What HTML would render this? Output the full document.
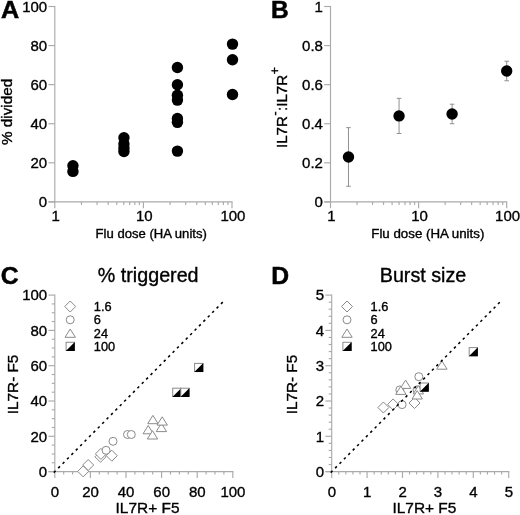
<!DOCTYPE html>
<html><head><meta charset="utf-8"><title>Figure</title>
<style>html,body{margin:0;padding:0;background:#fff}svg{display:block}</style>
</head><body>
<svg width="520" height="515" viewBox="0 0 520 515" font-family="&quot;Liberation Sans&quot;, sans-serif">
<line x1="54.80" y1="202.47" x2="54.80" y2="5.92" stroke="#aaaaaa" stroke-width="1.15" />
<line x1="48.50" y1="201.90" x2="232.57" y2="201.90" stroke="#aaaaaa" stroke-width="1.15" />
<line x1="48.50" y1="201.90" x2="54.80" y2="201.90" stroke="#aaaaaa" stroke-width="1.15" />
<text transform="translate(47.20,207.10) scale(1.0,1)" font-size="15.0" text-anchor="end" font-weight="normal" fill="#000" stroke="#000" stroke-width="0.35">0</text>
<line x1="48.50" y1="162.82" x2="54.80" y2="162.82" stroke="#aaaaaa" stroke-width="1.15" />
<text transform="translate(47.20,168.02) scale(1.0,1)" font-size="15.0" text-anchor="end" font-weight="normal" fill="#000" stroke="#000" stroke-width="0.35">20</text>
<line x1="48.50" y1="123.74" x2="54.80" y2="123.74" stroke="#aaaaaa" stroke-width="1.15" />
<text transform="translate(47.20,128.94) scale(1.0,1)" font-size="15.0" text-anchor="end" font-weight="normal" fill="#000" stroke="#000" stroke-width="0.35">40</text>
<line x1="48.50" y1="84.66" x2="54.80" y2="84.66" stroke="#aaaaaa" stroke-width="1.15" />
<text transform="translate(47.20,89.86) scale(1.0,1)" font-size="15.0" text-anchor="end" font-weight="normal" fill="#000" stroke="#000" stroke-width="0.35">60</text>
<line x1="48.50" y1="45.58" x2="54.80" y2="45.58" stroke="#aaaaaa" stroke-width="1.15" />
<text transform="translate(47.20,50.78) scale(1.0,1)" font-size="15.0" text-anchor="end" font-weight="normal" fill="#000" stroke="#000" stroke-width="0.35">80</text>
<line x1="48.50" y1="6.50" x2="54.80" y2="6.50" stroke="#aaaaaa" stroke-width="1.15" />
<text transform="translate(47.20,11.70) scale(1.0,1)" font-size="15.0" text-anchor="end" font-weight="normal" fill="#000" stroke="#000" stroke-width="0.35">100</text>
<line x1="54.80" y1="201.90" x2="54.80" y2="208.20" stroke="#aaaaaa" stroke-width="1.15" />
<line x1="81.47" y1="201.90" x2="81.47" y2="204.90" stroke="#aaaaaa" stroke-width="1.15" />
<line x1="97.07" y1="201.90" x2="97.07" y2="204.90" stroke="#aaaaaa" stroke-width="1.15" />
<line x1="108.14" y1="201.90" x2="108.14" y2="204.90" stroke="#aaaaaa" stroke-width="1.15" />
<line x1="116.73" y1="201.90" x2="116.73" y2="204.90" stroke="#aaaaaa" stroke-width="1.15" />
<line x1="123.74" y1="201.90" x2="123.74" y2="204.90" stroke="#aaaaaa" stroke-width="1.15" />
<line x1="129.68" y1="201.90" x2="129.68" y2="204.90" stroke="#aaaaaa" stroke-width="1.15" />
<line x1="134.81" y1="201.90" x2="134.81" y2="204.90" stroke="#aaaaaa" stroke-width="1.15" />
<line x1="139.35" y1="201.90" x2="139.35" y2="204.90" stroke="#aaaaaa" stroke-width="1.15" />
<line x1="143.40" y1="201.90" x2="143.40" y2="208.20" stroke="#aaaaaa" stroke-width="1.15" />
<line x1="170.07" y1="201.90" x2="170.07" y2="204.90" stroke="#aaaaaa" stroke-width="1.15" />
<line x1="185.67" y1="201.90" x2="185.67" y2="204.90" stroke="#aaaaaa" stroke-width="1.15" />
<line x1="196.74" y1="201.90" x2="196.74" y2="204.90" stroke="#aaaaaa" stroke-width="1.15" />
<line x1="205.33" y1="201.90" x2="205.33" y2="204.90" stroke="#aaaaaa" stroke-width="1.15" />
<line x1="212.34" y1="201.90" x2="212.34" y2="204.90" stroke="#aaaaaa" stroke-width="1.15" />
<line x1="218.28" y1="201.90" x2="218.28" y2="204.90" stroke="#aaaaaa" stroke-width="1.15" />
<line x1="223.41" y1="201.90" x2="223.41" y2="204.90" stroke="#aaaaaa" stroke-width="1.15" />
<line x1="227.95" y1="201.90" x2="227.95" y2="204.90" stroke="#aaaaaa" stroke-width="1.15" />
<line x1="232.00" y1="201.90" x2="232.00" y2="208.20" stroke="#aaaaaa" stroke-width="1.15" />
<text transform="translate(55.70,221.20) scale(1.0,1)" font-size="15.0" text-anchor="middle" font-weight="normal" fill="#000" stroke="#000" stroke-width="0.35">1</text>
<text transform="translate(144.30,221.20) scale(1.0,1)" font-size="15.0" text-anchor="middle" font-weight="normal" fill="#000" stroke="#000" stroke-width="0.35">10</text>
<text transform="translate(232.90,221.20) scale(1.0,1)" font-size="15.0" text-anchor="middle" font-weight="normal" fill="#000" stroke="#000" stroke-width="0.35">100</text>
<circle cx="72.94" cy="165.75" r="5.7" fill="#000"/>
<circle cx="72.94" cy="171.42" r="5.7" fill="#000"/>
<circle cx="123.94" cy="137.81" r="5.7" fill="#000"/>
<circle cx="123.94" cy="144.06" r="5.7" fill="#000"/>
<circle cx="123.94" cy="147.97" r="5.7" fill="#000"/>
<circle cx="123.94" cy="151.49" r="5.7" fill="#000"/>
<circle cx="177.43" cy="67.56" r="5.7" fill="#000"/>
<circle cx="177.43" cy="84.66" r="5.7" fill="#000"/>
<circle cx="177.43" cy="95.21" r="5.7" fill="#000"/>
<circle cx="177.43" cy="100.10" r="5.7" fill="#000"/>
<circle cx="177.43" cy="118.46" r="5.7" fill="#000"/>
<circle cx="177.43" cy="122.37" r="5.7" fill="#000"/>
<circle cx="177.43" cy="151.10" r="5.7" fill="#000"/>
<circle cx="232.50" cy="44.11" r="5.7" fill="#000"/>
<circle cx="232.50" cy="59.75" r="5.7" fill="#000"/>
<circle cx="232.50" cy="94.43" r="5.7" fill="#000"/>
<text transform="translate(1.10,18.30) scale(1.05,1)" font-size="24.0" text-anchor="start" font-weight="bold" fill="#000" stroke="#000" stroke-width="0.5">A</text>
<text transform="translate(151.20,237.50) scale(1.065,1)" font-size="12.3" text-anchor="middle" font-weight="normal" fill="#000" stroke="#000" stroke-width="0.35">Flu dose (HA units)</text>
<text transform="translate(12.00,111.90) rotate(-90) scale(1.065,1)" font-size="14.3" text-anchor="middle" fill="#000" stroke="#000" stroke-width="0.35">% divided</text>
<line x1="330.50" y1="202.47" x2="330.50" y2="5.92" stroke="#aaaaaa" stroke-width="1.15" />
<line x1="324.20" y1="201.90" x2="507.27" y2="201.90" stroke="#aaaaaa" stroke-width="1.15" />
<line x1="324.20" y1="201.90" x2="330.50" y2="201.90" stroke="#aaaaaa" stroke-width="1.15" />
<text transform="translate(322.90,207.10) scale(1.0,1)" font-size="15.0" text-anchor="end" font-weight="normal" fill="#000" stroke="#000" stroke-width="0.35">0</text>
<line x1="324.20" y1="162.82" x2="330.50" y2="162.82" stroke="#aaaaaa" stroke-width="1.15" />
<text transform="translate(322.90,168.02) scale(1.0,1)" font-size="15.0" text-anchor="end" font-weight="normal" fill="#000" stroke="#000" stroke-width="0.35">0.2</text>
<line x1="324.20" y1="123.74" x2="330.50" y2="123.74" stroke="#aaaaaa" stroke-width="1.15" />
<text transform="translate(322.90,128.94) scale(1.0,1)" font-size="15.0" text-anchor="end" font-weight="normal" fill="#000" stroke="#000" stroke-width="0.35">0.4</text>
<line x1="324.20" y1="84.66" x2="330.50" y2="84.66" stroke="#aaaaaa" stroke-width="1.15" />
<text transform="translate(322.90,89.86) scale(1.0,1)" font-size="15.0" text-anchor="end" font-weight="normal" fill="#000" stroke="#000" stroke-width="0.35">0.6</text>
<line x1="324.20" y1="45.58" x2="330.50" y2="45.58" stroke="#aaaaaa" stroke-width="1.15" />
<text transform="translate(322.90,50.78) scale(1.0,1)" font-size="15.0" text-anchor="end" font-weight="normal" fill="#000" stroke="#000" stroke-width="0.35">0.8</text>
<line x1="324.20" y1="6.50" x2="330.50" y2="6.50" stroke="#aaaaaa" stroke-width="1.15" />
<text transform="translate(322.90,11.70) scale(1.0,1)" font-size="15.0" text-anchor="end" font-weight="normal" fill="#000" stroke="#000" stroke-width="0.35">1</text>
<line x1="330.50" y1="201.90" x2="330.50" y2="208.20" stroke="#aaaaaa" stroke-width="1.15" />
<line x1="357.02" y1="201.90" x2="357.02" y2="204.90" stroke="#aaaaaa" stroke-width="1.15" />
<line x1="372.53" y1="201.90" x2="372.53" y2="204.90" stroke="#aaaaaa" stroke-width="1.15" />
<line x1="383.54" y1="201.90" x2="383.54" y2="204.90" stroke="#aaaaaa" stroke-width="1.15" />
<line x1="392.08" y1="201.90" x2="392.08" y2="204.90" stroke="#aaaaaa" stroke-width="1.15" />
<line x1="399.06" y1="201.90" x2="399.06" y2="204.90" stroke="#aaaaaa" stroke-width="1.15" />
<line x1="404.95" y1="201.90" x2="404.95" y2="204.90" stroke="#aaaaaa" stroke-width="1.15" />
<line x1="410.06" y1="201.90" x2="410.06" y2="204.90" stroke="#aaaaaa" stroke-width="1.15" />
<line x1="414.57" y1="201.90" x2="414.57" y2="204.90" stroke="#aaaaaa" stroke-width="1.15" />
<line x1="418.60" y1="201.90" x2="418.60" y2="208.20" stroke="#aaaaaa" stroke-width="1.15" />
<line x1="445.12" y1="201.90" x2="445.12" y2="204.90" stroke="#aaaaaa" stroke-width="1.15" />
<line x1="460.63" y1="201.90" x2="460.63" y2="204.90" stroke="#aaaaaa" stroke-width="1.15" />
<line x1="471.64" y1="201.90" x2="471.64" y2="204.90" stroke="#aaaaaa" stroke-width="1.15" />
<line x1="480.18" y1="201.90" x2="480.18" y2="204.90" stroke="#aaaaaa" stroke-width="1.15" />
<line x1="487.16" y1="201.90" x2="487.16" y2="204.90" stroke="#aaaaaa" stroke-width="1.15" />
<line x1="493.05" y1="201.90" x2="493.05" y2="204.90" stroke="#aaaaaa" stroke-width="1.15" />
<line x1="498.16" y1="201.90" x2="498.16" y2="204.90" stroke="#aaaaaa" stroke-width="1.15" />
<line x1="502.67" y1="201.90" x2="502.67" y2="204.90" stroke="#aaaaaa" stroke-width="1.15" />
<line x1="506.70" y1="201.90" x2="506.70" y2="208.20" stroke="#aaaaaa" stroke-width="1.15" />
<text transform="translate(331.40,221.20) scale(1.0,1)" font-size="15.0" text-anchor="middle" font-weight="normal" fill="#000" stroke="#000" stroke-width="0.35">1</text>
<text transform="translate(419.50,221.20) scale(1.0,1)" font-size="15.0" text-anchor="middle" font-weight="normal" fill="#000" stroke="#000" stroke-width="0.35">10</text>
<text transform="translate(507.60,221.20) scale(1.0,1)" font-size="15.0" text-anchor="middle" font-weight="normal" fill="#000" stroke="#000" stroke-width="0.35">100</text>
<line x1="348.48" y1="127.65" x2="348.48" y2="186.27" stroke="#909090" stroke-width="1" />
<line x1="346.18" y1="127.65" x2="350.78" y2="127.65" stroke="#909090" stroke-width="1" />
<line x1="346.18" y1="186.27" x2="350.78" y2="186.27" stroke="#909090" stroke-width="1" />
<circle cx="348.48" cy="156.96" r="5.7" fill="#000"/>
<line x1="399.06" y1="98.34" x2="399.06" y2="133.51" stroke="#909090" stroke-width="1" />
<line x1="396.76" y1="98.34" x2="401.36" y2="98.34" stroke="#909090" stroke-width="1" />
<line x1="396.76" y1="133.51" x2="401.36" y2="133.51" stroke="#909090" stroke-width="1" />
<circle cx="399.06" cy="115.92" r="5.7" fill="#000"/>
<line x1="452.10" y1="104.20" x2="452.10" y2="123.74" stroke="#909090" stroke-width="1" />
<line x1="449.80" y1="104.20" x2="454.40" y2="104.20" stroke="#909090" stroke-width="1" />
<line x1="449.80" y1="123.74" x2="454.40" y2="123.74" stroke="#909090" stroke-width="1" />
<circle cx="452.10" cy="113.97" r="5.7" fill="#000"/>
<line x1="506.70" y1="61.21" x2="506.70" y2="80.75" stroke="#909090" stroke-width="1" />
<line x1="504.40" y1="61.21" x2="509.00" y2="61.21" stroke="#909090" stroke-width="1" />
<line x1="504.40" y1="80.75" x2="509.00" y2="80.75" stroke="#909090" stroke-width="1" />
<circle cx="506.70" cy="70.98" r="5.7" fill="#000"/>
<text transform="translate(271.00,18.40) scale(1.03,1)" font-size="23.8" text-anchor="start" font-weight="bold" fill="#000" stroke="#000" stroke-width="0.5">B</text>
<text transform="translate(427.80,237.50) scale(1.082,1)" font-size="12.3" text-anchor="middle" font-weight="normal" fill="#000" stroke="#000" stroke-width="0.35">Flu dose (HA units)</text>
<text transform="translate(287.1,148.0) rotate(-90) scale(1.01,1)" font-size="15" text-anchor="start" fill="#000" stroke="#000" stroke-width="0.35">IL7R<tspan dy="-8" dx="0.5" font-size="12">-</tspan><tspan dy="8" dx="0.5">:IL7R</tspan><tspan dy="-8" dx="0.5" font-size="12">+</tspan></text>
<line x1="54.80" y1="472.18" x2="54.80" y2="294.53" stroke="#aaaaaa" stroke-width="1.15" />
<line x1="48.50" y1="471.60" x2="233.38" y2="471.60" stroke="#aaaaaa" stroke-width="1.15" />
<line x1="48.50" y1="471.60" x2="54.80" y2="471.60" stroke="#aaaaaa" stroke-width="1.15" />
<line x1="54.80" y1="471.60" x2="54.80" y2="477.90" stroke="#aaaaaa" stroke-width="1.15" />
<text transform="translate(47.20,476.80) scale(1.0,1)" font-size="15.0" text-anchor="end" font-weight="normal" fill="#000" stroke="#000" stroke-width="0.35">0</text>
<text transform="translate(54.90,496.70) scale(1.0,1)" font-size="15.0" text-anchor="middle" font-weight="normal" fill="#000" stroke="#000" stroke-width="0.35">0</text>
<line x1="51.80" y1="462.78" x2="54.80" y2="462.78" stroke="#aaaaaa" stroke-width="1.15" />
<line x1="63.70" y1="471.60" x2="63.70" y2="474.60" stroke="#aaaaaa" stroke-width="1.15" />
<line x1="51.80" y1="453.95" x2="54.80" y2="453.95" stroke="#aaaaaa" stroke-width="1.15" />
<line x1="72.60" y1="471.60" x2="72.60" y2="474.60" stroke="#aaaaaa" stroke-width="1.15" />
<line x1="51.80" y1="445.12" x2="54.80" y2="445.12" stroke="#aaaaaa" stroke-width="1.15" />
<line x1="81.50" y1="471.60" x2="81.50" y2="474.60" stroke="#aaaaaa" stroke-width="1.15" />
<line x1="48.50" y1="436.30" x2="54.80" y2="436.30" stroke="#aaaaaa" stroke-width="1.15" />
<line x1="90.40" y1="471.60" x2="90.40" y2="477.90" stroke="#aaaaaa" stroke-width="1.15" />
<text transform="translate(47.20,441.50) scale(1.0,1)" font-size="15.0" text-anchor="end" font-weight="normal" fill="#000" stroke="#000" stroke-width="0.35">20</text>
<text transform="translate(90.50,496.70) scale(1.0,1)" font-size="15.0" text-anchor="middle" font-weight="normal" fill="#000" stroke="#000" stroke-width="0.35">20</text>
<line x1="51.80" y1="427.48" x2="54.80" y2="427.48" stroke="#aaaaaa" stroke-width="1.15" />
<line x1="99.30" y1="471.60" x2="99.30" y2="474.60" stroke="#aaaaaa" stroke-width="1.15" />
<line x1="51.80" y1="418.65" x2="54.80" y2="418.65" stroke="#aaaaaa" stroke-width="1.15" />
<line x1="108.20" y1="471.60" x2="108.20" y2="474.60" stroke="#aaaaaa" stroke-width="1.15" />
<line x1="51.80" y1="409.82" x2="54.80" y2="409.82" stroke="#aaaaaa" stroke-width="1.15" />
<line x1="117.10" y1="471.60" x2="117.10" y2="474.60" stroke="#aaaaaa" stroke-width="1.15" />
<line x1="48.50" y1="401.00" x2="54.80" y2="401.00" stroke="#aaaaaa" stroke-width="1.15" />
<line x1="126.00" y1="471.60" x2="126.00" y2="477.90" stroke="#aaaaaa" stroke-width="1.15" />
<text transform="translate(47.20,406.20) scale(1.0,1)" font-size="15.0" text-anchor="end" font-weight="normal" fill="#000" stroke="#000" stroke-width="0.35">40</text>
<text transform="translate(126.10,496.70) scale(1.0,1)" font-size="15.0" text-anchor="middle" font-weight="normal" fill="#000" stroke="#000" stroke-width="0.35">40</text>
<line x1="51.80" y1="392.18" x2="54.80" y2="392.18" stroke="#aaaaaa" stroke-width="1.15" />
<line x1="134.90" y1="471.60" x2="134.90" y2="474.60" stroke="#aaaaaa" stroke-width="1.15" />
<line x1="51.80" y1="383.35" x2="54.80" y2="383.35" stroke="#aaaaaa" stroke-width="1.15" />
<line x1="143.80" y1="471.60" x2="143.80" y2="474.60" stroke="#aaaaaa" stroke-width="1.15" />
<line x1="51.80" y1="374.52" x2="54.80" y2="374.52" stroke="#aaaaaa" stroke-width="1.15" />
<line x1="152.70" y1="471.60" x2="152.70" y2="474.60" stroke="#aaaaaa" stroke-width="1.15" />
<line x1="48.50" y1="365.70" x2="54.80" y2="365.70" stroke="#aaaaaa" stroke-width="1.15" />
<line x1="161.60" y1="471.60" x2="161.60" y2="477.90" stroke="#aaaaaa" stroke-width="1.15" />
<text transform="translate(47.20,370.90) scale(1.0,1)" font-size="15.0" text-anchor="end" font-weight="normal" fill="#000" stroke="#000" stroke-width="0.35">60</text>
<text transform="translate(161.70,496.70) scale(1.0,1)" font-size="15.0" text-anchor="middle" font-weight="normal" fill="#000" stroke="#000" stroke-width="0.35">60</text>
<line x1="51.80" y1="356.88" x2="54.80" y2="356.88" stroke="#aaaaaa" stroke-width="1.15" />
<line x1="170.50" y1="471.60" x2="170.50" y2="474.60" stroke="#aaaaaa" stroke-width="1.15" />
<line x1="51.80" y1="348.05" x2="54.80" y2="348.05" stroke="#aaaaaa" stroke-width="1.15" />
<line x1="179.40" y1="471.60" x2="179.40" y2="474.60" stroke="#aaaaaa" stroke-width="1.15" />
<line x1="51.80" y1="339.23" x2="54.80" y2="339.23" stroke="#aaaaaa" stroke-width="1.15" />
<line x1="188.30" y1="471.60" x2="188.30" y2="474.60" stroke="#aaaaaa" stroke-width="1.15" />
<line x1="48.50" y1="330.40" x2="54.80" y2="330.40" stroke="#aaaaaa" stroke-width="1.15" />
<line x1="197.20" y1="471.60" x2="197.20" y2="477.90" stroke="#aaaaaa" stroke-width="1.15" />
<text transform="translate(47.20,335.60) scale(1.0,1)" font-size="15.0" text-anchor="end" font-weight="normal" fill="#000" stroke="#000" stroke-width="0.35">80</text>
<text transform="translate(197.30,496.70) scale(1.0,1)" font-size="15.0" text-anchor="middle" font-weight="normal" fill="#000" stroke="#000" stroke-width="0.35">80</text>
<line x1="51.80" y1="321.58" x2="54.80" y2="321.58" stroke="#aaaaaa" stroke-width="1.15" />
<line x1="206.10" y1="471.60" x2="206.10" y2="474.60" stroke="#aaaaaa" stroke-width="1.15" />
<line x1="51.80" y1="312.75" x2="54.80" y2="312.75" stroke="#aaaaaa" stroke-width="1.15" />
<line x1="215.00" y1="471.60" x2="215.00" y2="474.60" stroke="#aaaaaa" stroke-width="1.15" />
<line x1="51.80" y1="303.93" x2="54.80" y2="303.93" stroke="#aaaaaa" stroke-width="1.15" />
<line x1="223.90" y1="471.60" x2="223.90" y2="474.60" stroke="#aaaaaa" stroke-width="1.15" />
<line x1="48.50" y1="295.10" x2="54.80" y2="295.10" stroke="#aaaaaa" stroke-width="1.15" />
<line x1="232.80" y1="471.60" x2="232.80" y2="477.90" stroke="#aaaaaa" stroke-width="1.15" />
<text transform="translate(47.20,300.30) scale(1.0,1)" font-size="15.0" text-anchor="end" font-weight="normal" fill="#000" stroke="#000" stroke-width="0.35">100</text>
<text transform="translate(232.90,496.70) scale(1.0,1)" font-size="15.0" text-anchor="middle" font-weight="normal" fill="#000" stroke="#000" stroke-width="0.35">100</text>
<path d="M82.70 465.00 L88.20 459.50 L93.70 465.00 L88.20 470.50 Z" fill="#fff" stroke="#8a8a8a" stroke-width="1.0"/>
<path d="M77.70 471.40 L83.20 465.90 L88.70 471.40 L83.20 476.90 Z" fill="#fff" stroke="#8a8a8a" stroke-width="1.0"/>
<path d="M95.00 456.80 L100.50 451.30 L106.00 456.80 L100.50 462.30 Z" fill="#fff" stroke="#8a8a8a" stroke-width="1.0"/>
<path d="M95.40 453.90 L100.90 448.40 L106.40 453.90 L100.90 459.40 Z" fill="#fff" stroke="#8a8a8a" stroke-width="1.0"/>
<path d="M106.30 455.70 L111.80 450.20 L117.30 455.70 L111.80 461.20 Z" fill="#fff" stroke="#8a8a8a" stroke-width="1.0"/>
<circle cx="106.10" cy="450.30" r="4.0" fill="#fff" stroke="#8a8a8a" stroke-width="1.0"/>
<circle cx="113.00" cy="441.30" r="4.0" fill="#fff" stroke="#8a8a8a" stroke-width="1.0"/>
<circle cx="127.50" cy="434.50" r="4.0" fill="#fff" stroke="#8a8a8a" stroke-width="1.0"/>
<circle cx="131.30" cy="434.50" r="4.0" fill="#fff" stroke="#8a8a8a" stroke-width="1.0"/>
<path d="M156.20 431.60 L161.40 423.30 L166.60 431.60 Z" fill="#fff" stroke="#8a8a8a" stroke-width="1.0"/>
<path d="M143.00 433.80 L148.20 425.50 L153.40 433.80 Z" fill="#fff" stroke="#8a8a8a" stroke-width="1.0"/>
<path d="M147.70 423.70 L152.90 415.40 L158.10 423.70 Z" fill="#fff" stroke="#8a8a8a" stroke-width="1.0"/>
<path d="M157.00 425.10 L162.20 416.80 L167.40 425.10 Z" fill="#fff" stroke="#8a8a8a" stroke-width="1.0"/>
<path d="M147.30 439.00 L152.50 430.70 L157.70 439.00 Z" fill="#fff" stroke="#8a8a8a" stroke-width="1.0"/>
<rect x="172.70" y="388.20" width="8.2" height="8.2" fill="#fff" stroke="#8a8a8a" stroke-width="1.0"/>
<path d="M181.40 387.90 L181.40 396.90 L172.40 396.90 Z" fill="#000"/>
<rect x="180.80" y="388.20" width="8.2" height="8.2" fill="#fff" stroke="#8a8a8a" stroke-width="1.0"/>
<path d="M189.50 387.90 L189.50 396.90 L180.50 396.90 Z" fill="#000"/>
<rect x="194.60" y="363.40" width="8.2" height="8.2" fill="#fff" stroke="#8a8a8a" stroke-width="1.0"/>
<path d="M203.30 363.10 L203.30 372.10 L194.30 372.10 Z" fill="#000"/>
<line x1="53.81" y1="472.59" x2="224.34" y2="300.55" stroke="#000" stroke-width="1.55" stroke-dasharray="2.5 3.75"/>
<path d="M64.70 306.50 L70.20 301.00 L75.70 306.50 L70.20 312.00 Z" fill="#fff" stroke="#8a8a8a" stroke-width="1.0"/>
<text transform="translate(93.80,310.90) scale(1.04,1)" font-size="12.3" text-anchor="start" font-weight="normal" fill="#000" stroke="#000" stroke-width="0.35">1.6</text>
<circle cx="70.20" cy="319.80" r="4.0" fill="#fff" stroke="#8a8a8a" stroke-width="1.0"/>
<text transform="translate(93.80,324.20) scale(1.04,1)" font-size="12.3" text-anchor="start" font-weight="normal" fill="#000" stroke="#000" stroke-width="0.35">6</text>
<path d="M65.00 337.30 L70.20 329.00 L75.40 337.30 Z" fill="#fff" stroke="#8a8a8a" stroke-width="1.0"/>
<text transform="translate(93.80,337.50) scale(1.04,1)" font-size="12.3" text-anchor="start" font-weight="normal" fill="#000" stroke="#000" stroke-width="0.35">24</text>
<rect x="66.10" y="342.30" width="8.2" height="8.2" fill="#fff" stroke="#8a8a8a" stroke-width="1.0"/>
<path d="M74.80 342.00 L74.80 351.00 L65.80 351.00 Z" fill="#000"/>
<text transform="translate(93.80,350.80) scale(1.04,1)" font-size="12.3" text-anchor="start" font-weight="normal" fill="#000" stroke="#000" stroke-width="0.35">100</text>
<text transform="translate(148.20,282.00) scale(1.0,1)" font-size="19.7" text-anchor="middle" font-weight="normal" fill="#000" stroke="#000" stroke-width="0.35">% triggered</text>
<text transform="translate(0.85,284.10) scale(1.03,1)" font-size="24.0" text-anchor="start" font-weight="bold" fill="#000" stroke="#000" stroke-width="0.5">C</text>
<text transform="translate(147.50,513.20) scale(1.03,1)" font-size="15" text-anchor="middle" font-weight="normal" fill="#000" stroke="#000" stroke-width="0.35">IL7R+ F5</text>
<text transform="translate(18.10,384.40) rotate(-90) scale(1.02,1)" font-size="15" text-anchor="middle" fill="#000" stroke="#000" stroke-width="0.35">IL7R- F5</text>
<line x1="331.70" y1="472.18" x2="331.70" y2="294.53" stroke="#aaaaaa" stroke-width="1.15" />
<line x1="325.40" y1="471.60" x2="509.27" y2="471.60" stroke="#aaaaaa" stroke-width="1.15" />
<line x1="325.40" y1="471.60" x2="331.70" y2="471.60" stroke="#aaaaaa" stroke-width="1.15" />
<line x1="331.70" y1="471.60" x2="331.70" y2="477.90" stroke="#aaaaaa" stroke-width="1.15" />
<text transform="translate(324.10,476.80) scale(1.0,1)" font-size="15.0" text-anchor="end" font-weight="normal" fill="#000" stroke="#000" stroke-width="0.35">0</text>
<text transform="translate(331.80,496.70) scale(1.0,1)" font-size="15.0" text-anchor="middle" font-weight="normal" fill="#000" stroke="#000" stroke-width="0.35">0</text>
<line x1="328.70" y1="464.54" x2="331.70" y2="464.54" stroke="#aaaaaa" stroke-width="1.15" />
<line x1="338.78" y1="471.60" x2="338.78" y2="474.60" stroke="#aaaaaa" stroke-width="1.15" />
<line x1="328.70" y1="457.48" x2="331.70" y2="457.48" stroke="#aaaaaa" stroke-width="1.15" />
<line x1="345.86" y1="471.60" x2="345.86" y2="474.60" stroke="#aaaaaa" stroke-width="1.15" />
<line x1="328.70" y1="450.42" x2="331.70" y2="450.42" stroke="#aaaaaa" stroke-width="1.15" />
<line x1="352.94" y1="471.60" x2="352.94" y2="474.60" stroke="#aaaaaa" stroke-width="1.15" />
<line x1="328.70" y1="443.36" x2="331.70" y2="443.36" stroke="#aaaaaa" stroke-width="1.15" />
<line x1="360.02" y1="471.60" x2="360.02" y2="474.60" stroke="#aaaaaa" stroke-width="1.15" />
<line x1="325.40" y1="436.30" x2="331.70" y2="436.30" stroke="#aaaaaa" stroke-width="1.15" />
<line x1="367.10" y1="471.60" x2="367.10" y2="477.90" stroke="#aaaaaa" stroke-width="1.15" />
<text transform="translate(324.10,441.50) scale(1.0,1)" font-size="15.0" text-anchor="end" font-weight="normal" fill="#000" stroke="#000" stroke-width="0.35">1</text>
<text transform="translate(367.20,496.70) scale(1.0,1)" font-size="15.0" text-anchor="middle" font-weight="normal" fill="#000" stroke="#000" stroke-width="0.35">1</text>
<line x1="328.70" y1="429.24" x2="331.70" y2="429.24" stroke="#aaaaaa" stroke-width="1.15" />
<line x1="374.18" y1="471.60" x2="374.18" y2="474.60" stroke="#aaaaaa" stroke-width="1.15" />
<line x1="328.70" y1="422.18" x2="331.70" y2="422.18" stroke="#aaaaaa" stroke-width="1.15" />
<line x1="381.26" y1="471.60" x2="381.26" y2="474.60" stroke="#aaaaaa" stroke-width="1.15" />
<line x1="328.70" y1="415.12" x2="331.70" y2="415.12" stroke="#aaaaaa" stroke-width="1.15" />
<line x1="388.34" y1="471.60" x2="388.34" y2="474.60" stroke="#aaaaaa" stroke-width="1.15" />
<line x1="328.70" y1="408.06" x2="331.70" y2="408.06" stroke="#aaaaaa" stroke-width="1.15" />
<line x1="395.42" y1="471.60" x2="395.42" y2="474.60" stroke="#aaaaaa" stroke-width="1.15" />
<line x1="325.40" y1="401.00" x2="331.70" y2="401.00" stroke="#aaaaaa" stroke-width="1.15" />
<line x1="402.50" y1="471.60" x2="402.50" y2="477.90" stroke="#aaaaaa" stroke-width="1.15" />
<text transform="translate(324.10,406.20) scale(1.0,1)" font-size="15.0" text-anchor="end" font-weight="normal" fill="#000" stroke="#000" stroke-width="0.35">2</text>
<text transform="translate(402.60,496.70) scale(1.0,1)" font-size="15.0" text-anchor="middle" font-weight="normal" fill="#000" stroke="#000" stroke-width="0.35">2</text>
<line x1="328.70" y1="393.94" x2="331.70" y2="393.94" stroke="#aaaaaa" stroke-width="1.15" />
<line x1="409.58" y1="471.60" x2="409.58" y2="474.60" stroke="#aaaaaa" stroke-width="1.15" />
<line x1="328.70" y1="386.88" x2="331.70" y2="386.88" stroke="#aaaaaa" stroke-width="1.15" />
<line x1="416.66" y1="471.60" x2="416.66" y2="474.60" stroke="#aaaaaa" stroke-width="1.15" />
<line x1="328.70" y1="379.82" x2="331.70" y2="379.82" stroke="#aaaaaa" stroke-width="1.15" />
<line x1="423.74" y1="471.60" x2="423.74" y2="474.60" stroke="#aaaaaa" stroke-width="1.15" />
<line x1="328.70" y1="372.76" x2="331.70" y2="372.76" stroke="#aaaaaa" stroke-width="1.15" />
<line x1="430.82" y1="471.60" x2="430.82" y2="474.60" stroke="#aaaaaa" stroke-width="1.15" />
<line x1="325.40" y1="365.70" x2="331.70" y2="365.70" stroke="#aaaaaa" stroke-width="1.15" />
<line x1="437.90" y1="471.60" x2="437.90" y2="477.90" stroke="#aaaaaa" stroke-width="1.15" />
<text transform="translate(324.10,370.90) scale(1.0,1)" font-size="15.0" text-anchor="end" font-weight="normal" fill="#000" stroke="#000" stroke-width="0.35">3</text>
<text transform="translate(438.00,496.70) scale(1.0,1)" font-size="15.0" text-anchor="middle" font-weight="normal" fill="#000" stroke="#000" stroke-width="0.35">3</text>
<line x1="328.70" y1="358.64" x2="331.70" y2="358.64" stroke="#aaaaaa" stroke-width="1.15" />
<line x1="444.98" y1="471.60" x2="444.98" y2="474.60" stroke="#aaaaaa" stroke-width="1.15" />
<line x1="328.70" y1="351.58" x2="331.70" y2="351.58" stroke="#aaaaaa" stroke-width="1.15" />
<line x1="452.06" y1="471.60" x2="452.06" y2="474.60" stroke="#aaaaaa" stroke-width="1.15" />
<line x1="328.70" y1="344.52" x2="331.70" y2="344.52" stroke="#aaaaaa" stroke-width="1.15" />
<line x1="459.14" y1="471.60" x2="459.14" y2="474.60" stroke="#aaaaaa" stroke-width="1.15" />
<line x1="328.70" y1="337.46" x2="331.70" y2="337.46" stroke="#aaaaaa" stroke-width="1.15" />
<line x1="466.22" y1="471.60" x2="466.22" y2="474.60" stroke="#aaaaaa" stroke-width="1.15" />
<line x1="325.40" y1="330.40" x2="331.70" y2="330.40" stroke="#aaaaaa" stroke-width="1.15" />
<line x1="473.30" y1="471.60" x2="473.30" y2="477.90" stroke="#aaaaaa" stroke-width="1.15" />
<text transform="translate(324.10,335.60) scale(1.0,1)" font-size="15.0" text-anchor="end" font-weight="normal" fill="#000" stroke="#000" stroke-width="0.35">4</text>
<text transform="translate(473.40,496.70) scale(1.0,1)" font-size="15.0" text-anchor="middle" font-weight="normal" fill="#000" stroke="#000" stroke-width="0.35">4</text>
<line x1="328.70" y1="323.34" x2="331.70" y2="323.34" stroke="#aaaaaa" stroke-width="1.15" />
<line x1="480.38" y1="471.60" x2="480.38" y2="474.60" stroke="#aaaaaa" stroke-width="1.15" />
<line x1="328.70" y1="316.28" x2="331.70" y2="316.28" stroke="#aaaaaa" stroke-width="1.15" />
<line x1="487.46" y1="471.60" x2="487.46" y2="474.60" stroke="#aaaaaa" stroke-width="1.15" />
<line x1="328.70" y1="309.22" x2="331.70" y2="309.22" stroke="#aaaaaa" stroke-width="1.15" />
<line x1="494.54" y1="471.60" x2="494.54" y2="474.60" stroke="#aaaaaa" stroke-width="1.15" />
<line x1="328.70" y1="302.16" x2="331.70" y2="302.16" stroke="#aaaaaa" stroke-width="1.15" />
<line x1="501.62" y1="471.60" x2="501.62" y2="474.60" stroke="#aaaaaa" stroke-width="1.15" />
<line x1="325.40" y1="295.10" x2="331.70" y2="295.10" stroke="#aaaaaa" stroke-width="1.15" />
<line x1="508.70" y1="471.60" x2="508.70" y2="477.90" stroke="#aaaaaa" stroke-width="1.15" />
<text transform="translate(324.10,300.30) scale(1.0,1)" font-size="15.0" text-anchor="end" font-weight="normal" fill="#000" stroke="#000" stroke-width="0.35">5</text>
<text transform="translate(508.80,496.70) scale(1.0,1)" font-size="15.0" text-anchor="middle" font-weight="normal" fill="#000" stroke="#000" stroke-width="0.35">5</text>
<path d="M377.90 407.50 L383.40 402.00 L388.90 407.50 L383.40 413.00 Z" fill="#fff" stroke="#8a8a8a" stroke-width="1.0"/>
<path d="M387.60 404.40 L393.10 398.90 L398.60 404.40 L393.10 409.90 Z" fill="#fff" stroke="#8a8a8a" stroke-width="1.0"/>
<path d="M409.00 403.00 L414.50 397.50 L420.00 403.00 L414.50 408.50 Z" fill="#fff" stroke="#8a8a8a" stroke-width="1.0"/>
<circle cx="402.10" cy="404.60" r="4.0" fill="#fff" stroke="#8a8a8a" stroke-width="1.0"/>
<circle cx="399.80" cy="389.90" r="4.0" fill="#fff" stroke="#8a8a8a" stroke-width="1.0"/>
<circle cx="417.00" cy="389.90" r="4.0" fill="#fff" stroke="#8a8a8a" stroke-width="1.0"/>
<circle cx="418.80" cy="376.70" r="4.0" fill="#fff" stroke="#8a8a8a" stroke-width="1.0"/>
<path d="M400.40 388.40 L405.60 380.10 L410.80 388.40 Z" fill="#fff" stroke="#8a8a8a" stroke-width="1.0"/>
<path d="M395.70 394.40 L400.90 386.10 L406.10 394.40 Z" fill="#fff" stroke="#8a8a8a" stroke-width="1.0"/>
<path d="M413.20 393.90 L418.40 385.60 L423.60 393.90 Z" fill="#fff" stroke="#8a8a8a" stroke-width="1.0"/>
<path d="M412.00 399.00 L417.20 390.70 L422.40 399.00 Z" fill="#fff" stroke="#8a8a8a" stroke-width="1.0"/>
<path d="M436.70 369.20 L441.90 360.90 L447.10 369.20 Z" fill="#fff" stroke="#8a8a8a" stroke-width="1.0"/>
<rect x="420.10" y="383.00" width="8.2" height="8.2" fill="#fff" stroke="#8a8a8a" stroke-width="1.0"/>
<path d="M428.80 382.70 L428.80 391.70 L419.80 391.70 Z" fill="#000"/>
<rect x="469.20" y="347.60" width="8.2" height="8.2" fill="#fff" stroke="#8a8a8a" stroke-width="1.0"/>
<path d="M477.90 347.30 L477.90 356.30 L468.90 356.30 Z" fill="#000"/>
<line x1="330.71" y1="472.59" x2="501.95" y2="300.05" stroke="#000" stroke-width="1.55" stroke-dasharray="2.5 3.75"/>
<path d="M341.50 306.50 L347.00 301.00 L352.50 306.50 L347.00 312.00 Z" fill="#fff" stroke="#8a8a8a" stroke-width="1.0"/>
<text transform="translate(370.60,310.90) scale(1.04,1)" font-size="12.3" text-anchor="start" font-weight="normal" fill="#000" stroke="#000" stroke-width="0.35">1.6</text>
<circle cx="347.00" cy="319.80" r="4.0" fill="#fff" stroke="#8a8a8a" stroke-width="1.0"/>
<text transform="translate(370.60,324.20) scale(1.04,1)" font-size="12.3" text-anchor="start" font-weight="normal" fill="#000" stroke="#000" stroke-width="0.35">6</text>
<path d="M341.80 337.30 L347.00 329.00 L352.20 337.30 Z" fill="#fff" stroke="#8a8a8a" stroke-width="1.0"/>
<text transform="translate(370.60,337.50) scale(1.04,1)" font-size="12.3" text-anchor="start" font-weight="normal" fill="#000" stroke="#000" stroke-width="0.35">24</text>
<rect x="342.90" y="342.30" width="8.2" height="8.2" fill="#fff" stroke="#8a8a8a" stroke-width="1.0"/>
<path d="M351.60 342.00 L351.60 351.00 L342.60 351.00 Z" fill="#000"/>
<text transform="translate(370.60,350.80) scale(1.04,1)" font-size="12.3" text-anchor="start" font-weight="normal" fill="#000" stroke="#000" stroke-width="0.35">100</text>
<text transform="translate(423.00,282.00) scale(1.0,1)" font-size="19.7" text-anchor="middle" font-weight="normal" fill="#000" stroke="#000" stroke-width="0.35">Burst size</text>
<text transform="translate(271.25,284.10) scale(1.03,1)" font-size="24.0" text-anchor="start" font-weight="bold" fill="#000" stroke="#000" stroke-width="0.5">D</text>
<text transform="translate(424.40,513.20) scale(1.03,1)" font-size="15" text-anchor="middle" font-weight="normal" fill="#000" stroke="#000" stroke-width="0.35">IL7R+ F5</text>
<text transform="translate(296.60,384.60) rotate(-90) scale(1.02,1)" font-size="15" text-anchor="middle" fill="#000" stroke="#000" stroke-width="0.35">IL7R- F5</text>
</svg>
</body></html>
